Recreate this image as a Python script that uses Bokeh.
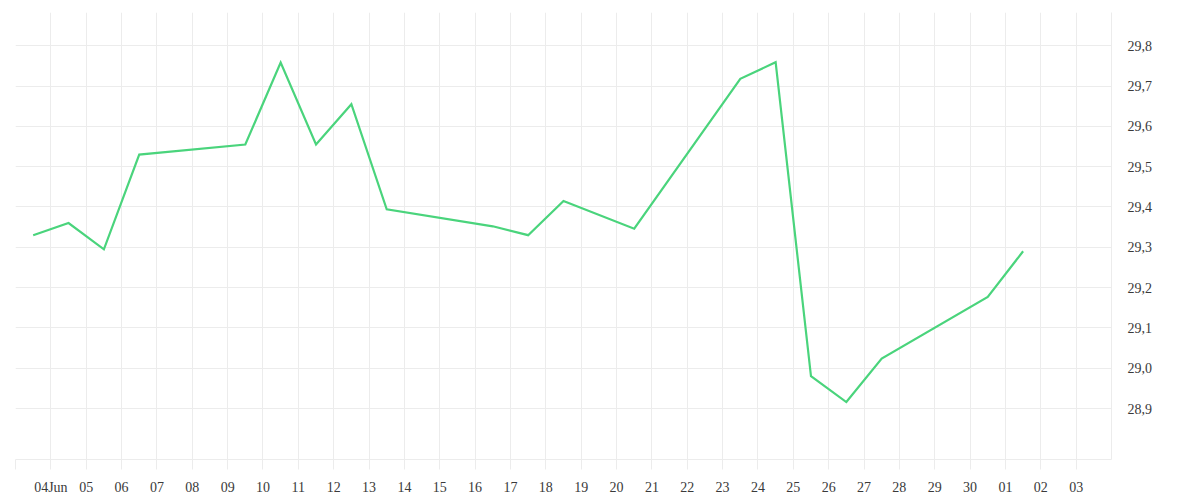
import pandas as pd
from bokeh.plotting import figure
from bokeh.models import FixedTicker, Range1d, ColumnDataSource
from bokeh.embed import file_html
from bokeh.resources import INLINE

# ---- data ----
dates = ["2025-06-03", "2025-06-04", "2025-06-05", "2025-06-06", "2025-06-09",
         "2025-06-10", "2025-06-11", "2025-06-12", "2025-06-13", "2025-06-16",
         "2025-06-17", "2025-06-18", "2025-06-20", "2025-06-23", "2025-06-24",
         "2025-06-25", "2025-06-26", "2025-06-27", "2025-06-30", "2025-07-01"]
values = [29.330, 29.360, 29.295, 29.530, 29.555,
          29.758, 29.555, 29.655, 29.394, 29.352,
          29.330, 29.415, 29.346, 29.718, 29.759,
          28.980, 28.916, 29.024, 29.177, 29.290]

x_tick_dates = list(pd.date_range("2025-06-03", "2025-07-03", freq="D").strftime("%Y-%m-%d"))
x_tick_labels = ["", "04Jun", "05", "06", "07", "08", "09", "10", "11", "12", "13",
                 "14", "15", "16", "17", "18", "19", "20", "21", "22", "23", "24",
                 "25", "26", "27", "28", "29", "30", "01", "02", "03"]
y_ticks = [28.9, 29.0, 29.1, 29.2, 29.3, 29.4, 29.5, 29.6, 29.7, 29.8]
y_tick_labels = ["28,9", "29,0", "29,1", "29,2", "29,3", "29,4", "29,5", "29,6", "29,7", "29,8"]

# ---- build ----
x = pd.to_datetime(dates) + pd.Timedelta(hours=12)
src = ColumnDataSource(dict(x=x, y=values))

def ms(s):
    return float(pd.Timestamp(s).value // 10**6)

x_ticks_ms = [ms(d) for d in x_tick_dates]

p = figure(width=1192, height=497, output_backend="svg", toolbar_location=None,
           x_axis_type="datetime", y_axis_location="right",
           x_range=Range1d(ms("2025-06-03"), ms("2025-07-04")),
           y_range=Range1d(28.7735, 29.8824),
           min_border_left=15, min_border_right=81, min_border_top=12, min_border_bottom=37)
p.outline_line_color = None
p.background_fill_color = "white"
p.border_fill_color = "white"

grid_col = "#ececec"
font = "Liberation Serif"
text_col = "#3a3a3a"

xa = p.xaxis[0]
xa.ticker = FixedTicker(ticks=x_ticks_ms)
xa.major_label_overrides = {t: l for t, l in zip(x_ticks_ms, x_tick_labels)}
xa.axis_line_color = grid_col
xa.major_tick_line_color = grid_col
xa.major_tick_out = 10
xa.major_tick_in = 0
xa.minor_tick_line_color = None
xa.major_label_standoff = 10
xa.major_label_text_font = font
xa.major_label_text_font_size = "14px"
xa.major_label_text_color = text_col

ya = p.yaxis[0]
ya.ticker = FixedTicker(ticks=y_ticks)
ya.major_label_overrides = {t: l for t, l in zip(y_ticks, y_tick_labels)}
ya.axis_line_color = grid_col
ya.major_tick_line_color = None
ya.minor_tick_line_color = None
ya.major_label_standoff = 10
ya.major_label_text_font = font
ya.major_label_text_font_size = "14px"
ya.major_label_text_color = text_col

p.xgrid[0].ticker = FixedTicker(ticks=x_ticks_ms)
p.ygrid[0].ticker = FixedTicker(ticks=y_ticks)
p.xgrid.grid_line_color = grid_col
p.ygrid.grid_line_color = grid_col

p.line("x", "y", source=src, line_color="#4ad47c", line_width=2.2, line_join="miter")

open("out.html", "w").write(file_html(p, INLINE))
